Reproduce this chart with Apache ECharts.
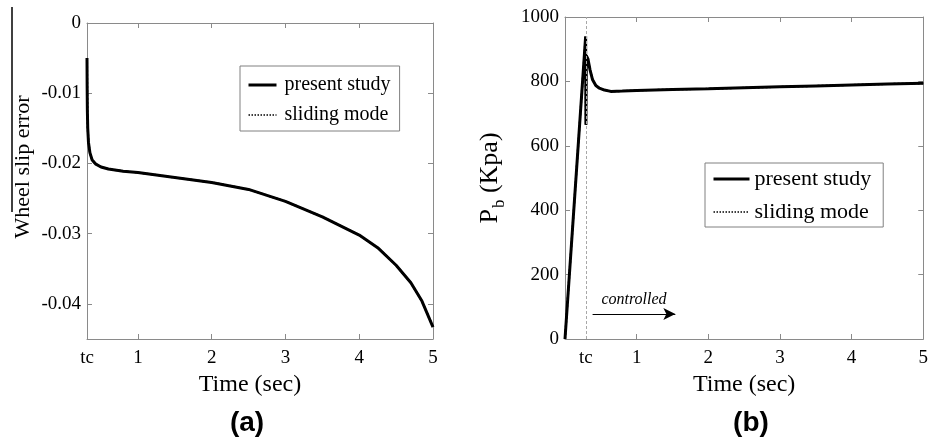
<!DOCTYPE html>
<html><head><meta charset="utf-8">
<script src="https://cdn.jsdelivr.net/npm/echarts@6/dist/echarts.min.js"></script>
<style>html,body{margin:0;padding:0;background:#fff}#c{width:931px;height:443px}</style>
</head><body><div id="c"></div>
<script>
// ---- data ----
const tcLeft = 0.31;
const tcRight = 0.29;
const timeTickValues = [1, 2, 3, 4];
const timeLabelValues = [1, 2, 3, 4, 5];

const slipTime    = [0.31, 0.312, 0.315, 0.32, 0.33, 0.35, 0.38, 0.43, 0.5, 0.6, 0.8, 1.0, 1.5, 2.0, 2.5, 3.0, 3.5, 4.0, 4.25, 4.5, 4.7, 4.85, 5.0];
const slipPresent = [-0.0050, -0.0090, -0.0125, -0.0150, -0.0170, -0.0185, -0.0195, -0.0201, -0.0205, -0.0208, -0.0211, -0.0213, -0.0220, -0.0227, -0.0237, -0.0254, -0.0276, -0.0302, -0.0320, -0.0345, -0.0370, -0.0396, -0.0433];
const slipSliding = [-0.0050, -0.0090, -0.0125, -0.0150, -0.0170, -0.0185, -0.0195, -0.0201, -0.0205, -0.0208, -0.0211, -0.0213, -0.0220, -0.0227, -0.0237, -0.0254, -0.0276, -0.0302, -0.0320, -0.0345, -0.0370, -0.0396, -0.0433];
const slipTicks = [0, -0.01, -0.02, -0.03, -0.04];

const pressTime    = [0, 0.288, 0.292, 0.298, 0.32, 0.35, 0.385, 0.43, 0.48, 0.55, 0.64, 0.8, 1.0, 1.5, 2.0, 2.5, 3.0, 3.5, 4.0, 4.5, 5.0];
const pressPresent = [0, 940, 665, 880, 870, 835, 805, 787, 779, 773, 769, 770, 772, 775, 777, 780, 783, 786, 789, 792, 794];
const pressSliding = [0, 940, 665, 880, 870, 835, 805, 787, 779, 773, 769, 770, 772, 775, 777, 780, 783, 786, 789, 792, 794];
const pressTicks = [0, 200, 400, 600, 800, 1000];

const arrowFrom = [0.385, 78];
const arrowTo = [1.54, 78];

// ---- chart ----
const frame = '#8a8a8a';
const serif = 'Liberation Serif';
const zip = (xs, ys) => xs.map((x, i) => [x, ys[i]]);

function xAxis(grid, min, tc, pos, namePad) {
  const bottom = pos === 'bottom';
  return {
    type: 'value', gridIndex: grid, min: min, max: 5, position: pos,
    axisLine: { show: true, onZero: false, lineStyle: { color: frame, width: 1 } },
    axisTick: { show: true, inside: true, length: 5, customValues: timeTickValues, lineStyle: { color: frame } },
    axisLabel: bottom ? {
      show: true, customValues: [tc].concat(timeLabelValues), margin: 10,
      formatter: v => Math.abs(v - tc) < 1e-9 ? 'tc' : String(v),
      color: '#000', fontFamily: serif, fontSize: 19
    } : { show: false },
    splitLine: { show: false },
    name: bottom ? 'Time (sec)' : '', nameLocation: 'middle', nameGap: 34,
    nameTextStyle: { color: '#000', fontFamily: serif, fontSize: 24, padding: namePad || 0 }
  };
}

const legendCommon = {
  data: [
    { name: 'present study', lineStyle: { width: 3, type: 'solid', color: '#000' } },
    { name: 'sliding mode', lineStyle: { width: 1.5, type: 'dotted', color: '#000' } }
  ],
  orient: 'vertical',
  borderColor: '#808080', borderWidth: 1, backgroundColor: '#fff', selectedMode: false,
  itemStyle: { opacity: 0, borderWidth: 0 }
};

const option = {
  animation: false,
  backgroundColor: '#fff',
  grid: [
    { left: 87, right: 498, top: 23, bottom: 104 },
    { left: 565, right: 1, top: 17, bottom: 104 }
  ],
  xAxis: [
    xAxis(0, tcLeft, tcLeft, 'bottom', [0, 20, 0, 0]),
    xAxis(0, tcLeft, tcLeft, 'top'),
    xAxis(1, 0, tcRight, 'bottom'),
    xAxis(1, 0, tcRight, 'top')
  ],
  yAxis: [
    {
      type: 'value', gridIndex: 0, min: -0.045, max: 0, position: 'left',
      axisLine: { show: true, onZero: false, lineStyle: { color: frame } },
      axisTick: { show: true, inside: true, length: 5, customValues: slipTicks.slice(1), lineStyle: { color: frame } },
      axisLabel: { show: true, customValues: slipTicks, margin: 6, color: '#000', fontFamily: serif, fontSize: 19,
        formatter: v => v === 0 ? '0' : v.toFixed(2) },
      splitLine: { show: false },
      name: 'Wheel slip error', nameLocation: 'middle', nameRotate: 90, nameGap: 53,
      nameTextStyle: { color: '#000', fontFamily: serif, fontSize: 22, padding: [0, 0, 0, 28] }
    },
    {
      type: 'value', gridIndex: 0, min: -0.045, max: 0, position: 'right',
      axisLine: { show: true, onZero: false, lineStyle: { color: frame } },
      axisTick: { show: true, inside: true, length: 5, customValues: slipTicks.slice(1), lineStyle: { color: frame } },
      axisLabel: { show: false }, splitLine: { show: false }
    },
    {
      type: 'value', gridIndex: 1, min: 0, max: 1000, interval: 200, position: 'left',
      axisLine: { show: true, onZero: false, lineStyle: { color: frame } },
      axisTick: { show: true, inside: true, length: 5, lineStyle: { color: frame } },
      axisLabel: { show: true, customValues: pressTicks, margin: 6, color: '#000', fontFamily: serif, fontSize: 19,
        formatter: v => String(v) },
      splitLine: { show: false },
      name: '{p|P}{s|b}{p| (Kpa)}', nameLocation: 'middle', nameRotate: 90, nameGap: 62,
      nameTextStyle: {
        color: '#000', fontFamily: serif, fontSize: 26,
        rich: {
          p: { fontFamily: serif, fontSize: 26, lineHeight: 26, verticalAlign: 'top', color: '#000' },
          s: { fontFamily: serif, fontSize: 17, lineHeight: 17, verticalAlign: 'top', padding: [14, 0, 0, 1], color: '#000' }
        }
      }
    },
    {
      type: 'value', gridIndex: 1, min: 0, max: 1000, interval: 200, position: 'right',
      axisLine: { show: true, onZero: false, lineStyle: { color: frame } },
      axisTick: { show: true, inside: true, length: 5, lineStyle: { color: frame } },
      axisLabel: { show: false }, splitLine: { show: false }
    }
  ],
  legend: [
    Object.assign({}, legendCommon, {
      left: 240, top: 66, itemWidth: 28, itemHeight: 14, itemGap: 10, padding: [9, 9, 6, 7],
      textStyle: { fontFamily: serif, fontSize: 20, lineHeight: 20, color: '#000', padding: [0, 0, 0, 3] }
    }),
    Object.assign({}, legendCommon, {
      left: 705, top: 163, itemWidth: 36, itemHeight: 14, itemGap: 11, padding: [5, 12, 4, 7],
      textStyle: { fontFamily: serif, fontSize: 22, lineHeight: 22, color: '#000' }
    })
  ],
  series: [
    {
      name: 'present study', type: 'line', xAxisIndex: 0, yAxisIndex: 0, symbol: 'none',
      data: zip(slipTime, slipPresent), lineStyle: { color: '#000', width: 3 }, itemStyle: { color: '#000' }, z: 2
    },
    {
      name: 'sliding mode', type: 'line', xAxisIndex: 0, yAxisIndex: 0, symbol: 'none',
      data: zip(slipTime, slipSliding), lineStyle: { color: '#000', width: 2, type: 'dotted' }, itemStyle: { color: '#000' }, z: 3
    },
    {
      name: 'present study', type: 'line', xAxisIndex: 2, yAxisIndex: 2, symbol: 'none',
      data: zip(pressTime, pressPresent), lineStyle: { color: '#000', width: 3 }, itemStyle: { color: '#000' }, z: 2,
      markLine: {
        silent: true, animation: false, symbol: ['none', 'none'],
        data: [
          { xAxis: tcRight, lineStyle: { type: [3, 2], color: '#a8a8a8', width: 1 }, label: { show: false } },
          [
            { coord: arrowFrom, symbol: 'none' },
            { coord: arrowTo, symbol: 'arrow', symbolSize: [9, 12],
              lineStyle: { type: 'solid', color: '#000', width: 1.2 },
              label: { show: true, position: 'insideMiddleTop', formatter: 'controlled', distance: 6,
                fontFamily: serif, fontStyle: 'italic', fontSize: 16, color: '#000' } }
          ]
        ]
      }
    },
    {
      name: 'sliding mode', type: 'line', xAxisIndex: 2, yAxisIndex: 2, symbol: 'none',
      data: zip(pressTime, pressSliding), lineStyle: { color: '#000', width: 2, type: 'dotted' }, itemStyle: { color: '#000' }, z: 3
    }
  ],
  graphic: [
    { type: 'line', shape: { x1: 12, y1: 7, x2: 12, y2: 212 }, style: { stroke: '#000', lineWidth: 1.5 } },
    { type: 'text', x: 247, y: 423, style: { text: '(a)', font: 'bold 28px "Liberation Sans"', fill: '#000', align: 'center', verticalAlign: 'middle' } },
    { type: 'text', x: 751, y: 423, style: { text: '(b)', font: 'bold 28px "Liberation Sans"', fill: '#000', align: 'center', verticalAlign: 'middle' } }
  ]
};

const chart = echarts.init(document.getElementById('c'), null, { renderer: 'canvas' });
chart.setOption(option);
</script>
</body></html>
